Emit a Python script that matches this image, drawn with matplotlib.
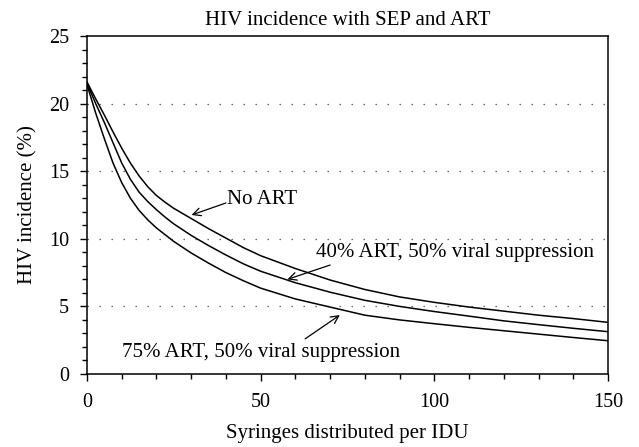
import matplotlib
matplotlib.use("Agg")
import matplotlib.pyplot as plt
from matplotlib.ticker import MultipleLocator

plt.rcParams['font.family'] = ['Liberation Serif', 'DejaVu Serif']

syringes = [0, 2.5, 5, 7.5, 10, 12.5, 15, 17.5, 20, 22.5, 25, 30, 35, 40, 45, 50,
            60, 70, 80, 90, 100, 110, 120, 130, 140, 150]
no_art = [21.6, 20.35, 19.15, 17.9, 16.7, 15.6, 14.65, 13.85, 13.2, 12.7, 12.25, 11.5, 10.75, 10.05, 9.35, 8.75,
          7.8, 6.95, 6.25, 5.7, 5.3, 4.95, 4.65, 4.35, 4.1, 3.82]
art40 = [21.5, 20.0, 18.6, 17.1, 15.6, 14.4, 13.45, 12.75, 12.15, 11.6, 11.1, 10.25, 9.5, 8.8, 8.15, 7.6,
         6.75, 6.05, 5.45, 5.0, 4.62, 4.28, 3.93, 3.65, 3.38, 3.13]
art75 = [21.4, 19.3, 17.4, 15.6, 14.15, 13.0, 12.1, 11.4, 10.8, 10.3, 9.8, 8.95, 8.2, 7.5, 6.9, 6.35,
         5.55, 4.95, 4.35, 4.0, 3.72, 3.45, 3.2, 2.95, 2.7, 2.46]

title = "HIV incidence with SEP and ART"
xlabel = "Syringes distributed per IDU"
ylabel = "HIV incidence (%)"
grid_levels = [5, 10, 15, 20]
labels = ["No ART", "40% ART, 50% viral suppression", "75% ART, 50% viral suppression"]

fig = plt.figure(figsize=(6.39, 4.47), dpi=100)
ax = fig.add_axes([87/639, 1 - 374/447, (608-87)/639, (374-36)/447])

for series in (no_art, art40, art75):
    ax.plot(syringes, series, color='black', lw=1.1, zorder=3)

for g in grid_levels:
    ax.axhline(g, color='#555555', lw=0.9, linestyle=(0, (1.1, 8.5)), zorder=1)

ax.set_xlim(0, 150)
ax.set_ylim(0, 25)
ax.xaxis.set_major_locator(MultipleLocator(50))
ax.xaxis.set_minor_locator(MultipleLocator(10))
ax.yaxis.set_major_locator(MultipleLocator(5))
ax.yaxis.set_minor_locator(MultipleLocator(1))
ax.tick_params(which='both', direction='out', top=False, right=False, width=1.0, labelsize=14.5)
ax.tick_params(which='major', length=5)
ax.tick_params(which='minor', length=3.5)
ax.tick_params(axis='x', pad=9)
ax.tick_params(axis='y', pad=8)
for s in ax.spines.values():
    s.set_linewidth(1.1)

ax.set_title(title, fontsize=15, pad=8)
ax.set_xlabel(xlabel, fontsize=15, labelpad=8)
ax.set_ylabel(ylabel, fontsize=15, labelpad=8)

arrowprops = dict(arrowstyle='->', color='black', lw=0.9, mutation_scale=14, shrinkA=0, shrinkB=0)

ax.text(40.3, 12.87, labels[0], fontsize=15, ha='left', va='center')
ax.annotate("", xy=(30.1, 11.76), xytext=(40.0, 12.65), arrowprops=arrowprops)

ax.text(65.9, 8.95, labels[1], fontsize=15, ha='left', va='center')
ax.annotate("", xy=(57.7, 7.0), xytext=(70.0, 8.06), arrowprops=arrowprops)

ax.text(10.0, 1.6, labels[2], fontsize=15, ha='left', va='center')
ax.annotate("", xy=(72.8, 4.36), xytext=(62.8, 2.6), arrowprops=arrowprops)

fig.savefig("out.png", dpi=100)
